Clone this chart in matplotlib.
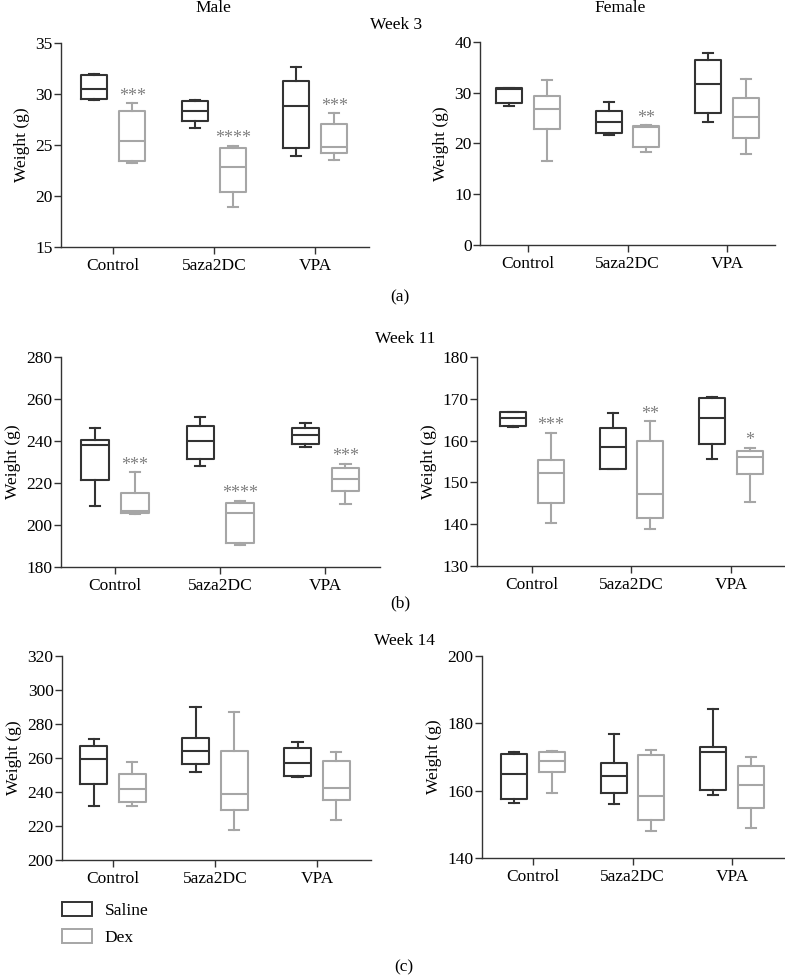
import matplotlib.pyplot as plt
from matplotlib.patches import Patch

plt.rcParams["font.family"] = ["Liberation Serif", "DejaVu Serif"]
plt.rcParams["font.size"] = 12.5

GROUPS = ["Control", "5aza2DC", "VPA"]
SALINE_COLOR = "#333333"
DEX_COLOR = "#a6a6a6"

# five-number summaries per group: [min, q1, median, q3, max]
male_w3_saline = [[29.4, 29.5, 30.5, 31.9, 32.0], [26.7, 27.4, 28.3, 29.35, 29.4], [23.9, 24.7, 28.8, 31.3, 32.6]]
male_w3_dex = [[23.2, 23.4, 25.4, 28.3, 29.1], [18.9, 20.4, 22.8, 24.7, 24.9], [23.5, 24.2, 24.8, 27.05, 28.1]]
male_w3_stars = ["***", "****", "***"]

female_w3_saline = [[27.3, 28.0, 30.7, 30.9, 30.9], [21.6, 22.0, 24.2, 26.5, 28.2], [24.2, 26.0, 31.8, 36.4, 37.8]]
female_w3_dex = [[16.6, 22.9, 26.7, 29.3, 32.6], [18.4, 19.4, 23.3, 23.5, 23.6], [18.0, 21.0, 25.3, 28.9, 32.8]]
female_w3_stars = ["", "**", ""]

male_w11_saline = [[209.1, 221.3, 237.9, 240.7, 246.0], [228.2, 231.4, 239.8, 247.1, 251.5], [237.2, 238.7, 242.8, 246.0, 248.7]]
male_w11_dex = [[205.1, 205.9, 206.7, 215.0, 225.0], [190.3, 191.4, 205.9, 210.7, 211.6], [210.2, 216.2, 222.0, 227.1, 229.0]]
male_w11_stars = ["***", "****", "***"]

female_w11_saline = [[163.2, 163.4, 165.3, 166.8, 166.9], [153.2, 153.2, 158.5, 163.0, 166.6], [155.6, 159.1, 165.3, 170.2, 170.4]]
female_w11_dex = [[140.4, 145.0, 152.3, 155.3, 161.8], [138.9, 141.6, 147.3, 159.8, 164.6], [145.2, 152.1, 156.1, 157.5, 158.3]]
female_w11_stars = ["***", "**", "*"]

male_w14_saline = [[231.6, 244.9, 259.6, 266.9, 271.2], [251.8, 256.7, 264.1, 271.8, 290.0], [248.8, 249.2, 257.1, 266.1, 269.2]]
male_w14_dex = [[231.8, 234.1, 241.6, 250.6, 257.5], [217.5, 229.2, 238.6, 264.3, 287.3], [223.7, 235.1, 242.4, 258.4, 263.5]]

female_w14_saline = [[156.3, 157.4, 165.0, 171.0, 171.6], [156.1, 159.4, 164.3, 168.2, 176.9], [158.8, 160.3, 171.4, 172.9, 184.2]]
female_w14_dex = [[159.4, 165.5, 168.7, 171.5, 171.8], [148.0, 151.2, 158.4, 170.7, 172.2], [149.0, 155.0, 161.8, 167.2, 170.0]]

W, H = 785, 977


def px_axes(fig, left, top, right, bottom):
    return fig.add_axes([left / W, 1 - bottom / H, (right - left) / W, (bottom - top) / H])


def to_stats(summary):
    return [
        {"whislo": s[0], "q1": s[1], "med": s[2], "q3": s[3], "whishi": s[4], "fliers": []}
        for s in summary
    ]


def draw_panel(ax, saline, dex, ylim, yticks, xlim, stars=None):
    for data, offset, color in [(saline, -0.19, SALINE_COLOR), (dex, 0.19, DEX_COLOR)]:
        props = dict(color=color, linewidth=1.5)
        ax.bxp(
            to_stats(data),
            positions=[i + offset for i in range(len(GROUPS))],
            widths=0.26,
            capwidths=0.1,
            showfliers=False,
            boxprops=props,
            medianprops=props,
            whiskerprops=props,
            capprops=props,
            manage_ticks=False,
        )
    if stars:
        for i, star in enumerate(stars):
            if star:
                ax.annotate(
                    star,
                    xy=(i + 0.19, dex[i][4]),
                    xytext=(0, -1),
                    textcoords="offset points",
                    ha="center",
                    va="bottom",
                    color="#808080",
                    fontsize=13,
                )
    ax.set_xlim(*xlim)
    ax.set_ylim(*ylim)
    ax.set_yticks(yticks)
    ax.set_xticks(range(len(GROUPS)))
    ax.set_xticklabels(GROUPS)
    ax.set_ylabel("Weight (g)", labelpad=4)
    for side in ["top", "right"]:
        ax.spines[side].set_visible(False)
    for side in ["left", "bottom"]:
        ax.spines[side].set_color("#333333")
        ax.spines[side].set_linewidth(1.0)
    ax.tick_params(axis="y", direction="out", length=5, width=1, color="#333333", pad=1)
    ax.tick_params(axis="x", direction="out", length=5, width=1, color="#333333", pad=3)


fig = plt.figure(figsize=(W / 100, H / 100), dpi=100)

ax1 = px_axes(fig, 61, 43, 369, 247)
draw_panel(ax1, male_w3_saline, male_w3_dex, (15, 35), [15, 20, 25, 30, 35], (-0.515, 2.535), male_w3_stars)
ax2 = px_axes(fig, 480, 42, 775, 245)
draw_panel(ax2, female_w3_saline, female_w3_dex, (0, 40), [0, 10, 20, 30, 40], (-0.48, 2.48), female_w3_stars)

ax3 = px_axes(fig, 61, 357, 380, 567)
draw_panel(ax3, male_w11_saline, male_w11_dex, (180, 280), [180, 200, 220, 240, 260, 280], (-0.514, 2.52), male_w11_stars)
ax4 = px_axes(fig, 477, 357, 784, 566)
draw_panel(ax4, female_w11_saline, female_w11_dex, (130, 180), [130, 140, 150, 160, 170, 180], (-0.55, 2.53), female_w11_stars)

ax5 = px_axes(fig, 62, 656, 371, 860)
draw_panel(ax5, male_w14_saline, male_w14_dex, (200, 320), [200, 220, 240, 260, 280, 300, 320], (-0.5, 2.53))
ax6 = px_axes(fig, 482, 656, 784, 858)
draw_panel(ax6, female_w14_saline, female_w14_dex, (140, 200), [140, 160, 180, 200], (-0.51, 2.52))

# headers and panel letters
fig.text(213 / W, 1 - 8 / H, "Male", ha="center", va="center")
fig.text(620 / W, 1 - 8 / H, "Female", ha="center", va="center")
fig.text(396 / W, 1 - 25 / H, "Week 3", ha="center", va="center")
fig.text(405 / W, 1 - 339 / H, "Week 11", ha="center", va="center")
fig.text(405 / W, 1 - 641 / H, "Week 14", ha="center", va="center")
fig.text(400 / W, 1 - 297 / H, "(a)", ha="center", va="center")
fig.text(400 / W, 1 - 603 / H, "(b)", ha="center", va="center")
fig.text(404 / W, 1 - 967 / H, "(c)", ha="center", va="center")

handles = [
    Patch(facecolor="white", edgecolor=SALINE_COLOR, linewidth=1.4, label="Saline"),
    Patch(facecolor="white", edgecolor=DEX_COLOR, linewidth=1.4, label="Dex"),
]
fig.legend(
    handles=handles,
    loc="upper left",
    bbox_to_anchor=(62 / W, 1 - 902 / H),
    frameon=False,
    borderaxespad=0,
    borderpad=0,
    handlelength=1.75,
    handleheight=0.85,
    handletextpad=0.7,
    labelspacing=0.6,
)

plt.savefig("out.png", dpi=100)
